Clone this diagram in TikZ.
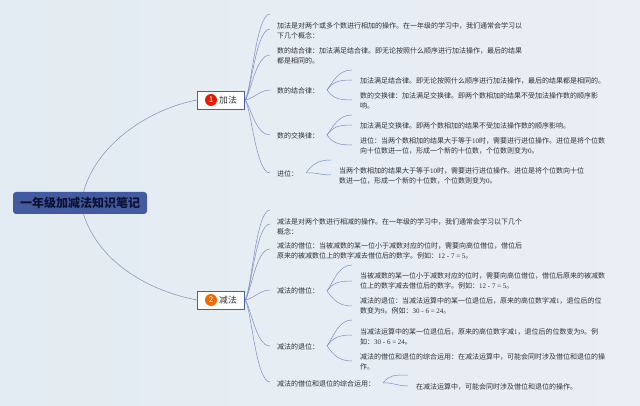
\documentclass[tikz,border=0pt]{standalone}
\usepackage{fontspec}
\setmainfont{Noto Sans CJK SC}
\newfontfamily\lat{Liberation Serif}
\usetikzlibrary{calc}
\definecolor{bgL}{HTML}{E3ECF2}
\definecolor{bgR}{HTML}{EAEEF5}
\definecolor{txtc}{HTML}{2E3135}
\definecolor{linec}{HTML}{7F8DC4}
\definecolor{rootline}{HTML}{8F98B8}
\definecolor{rootfill}{HTML}{4359A0}
\definecolor{boxline}{HTML}{4B5FA8}
\definecolor{rootink}{HTML}{0C1230}
\tikzset{
  txt/.style={anchor=west,align=left,inner sep=0pt,text=txtc,font=\fontsize{7}{10.2}\selectfont},
  rootnode/.style={fill=rootfill,rounded corners=3pt,minimum width=134pt,minimum height=22pt,inner sep=0pt,text=rootink,font=\fontsize{12}{14}\selectfont\bfseries},
  topic/.style={draw=boxline,fill=white,line width=0.8pt,minimum width=47pt,minimum height=18pt,inner sep=0pt},
  topictext/.style={inner sep=0pt,text=black!80,font=\fontsize{8.8}{10}\selectfont},
  badge/.style={circle,minimum size=12pt,inner sep=0pt,text=white,font=\fontsize{8}{9}\selectfont},
  br/.style={draw=linec,line width=0.5pt},
  rl/.style={draw=rootline,line width=0.6pt}
}
\newcommand{\up}[2]{\draw[br] (#1) .. controls +(6,-8) and +(-14,0) .. (#2);}
\newcommand{\dn}[2]{\draw[br] (#1) .. controls +(6,8) and +(-14,0) .. (#2);}
\newcommand{\fl}[2]{\draw[br] (#1) .. controls +(8,-1) and +(-10,0) .. (#2);}
\begin{document}
\begin{tikzpicture}[x=1pt,y=-1pt]
\useasboundingbox (0,0) rectangle (640,406);
\shade[left color=bgL,right color=bgR] (0,0) rectangle (640,406);

\node[rootnode] (root) at (80,203) {一年级加减法知识笔记};
\node[topic] (add) at (221.25,100) {};
\node[badge,fill=red!75!orange!90!black] (addicon) at (211,100) {1};
\node[topictext] (addtxt) at (228,100) {加法};
\node[topic] (sub) at (221.25,300) {};
\node[badge,fill=orange!85!red!95!black] (subicon) at (211,300) {2};
\node[topictext] (subtxt) at (228,300) {减法};

\draw[rl] ($(root.north)+(3.5,0)$) .. controls +(14,-50) and +(-45,8) .. (add.west);
\draw[rl] ($(root.south)+(3.5,0)$) .. controls +(16,50) and +(-45,-8) .. (sub.west);

% addition, level 2
\node[txt] (a1) at (277,31) {加法是对两个或多个数进行相加的操作。在一年级的学习中，我们通常会学习以\\下几个概念：};
\node[txt] (a2) at (277,55.5) {数的结合律：加法满足结合律。即无论按照什么顺序进行加法操作，最后的结果\\都是相同的。};
\node[txt] (a3) at (277,91) {数的结合律：};
\node[txt] (a4) at (277,136) {数的交换律：};
\node[txt] (a5) at (277,174) {进位：};
% addition, level 3
\node[txt] (a31) at (360,81) {加法满足结合律。即无论按照什么顺序进行加法操作，最后的结果都是相同的。};
\node[txt] (a32) at (360,101) {数的交换律：加法满足交换律。即两个数相加的结果不受加法操作数的顺序影\\响。};
\node[txt] (a41) at (360,126) {加法满足交换律。即两个数相加的结果不受加法操作数的顺序影响。};
\node[txt] (a42) at (360,146) {进位：当两个数相加的结果大于等于{\lat 10}时，需要进行进位操作。进位是将个位数\\向十位数进一位，形成一个新的十位数，个位数则变为{\lat 0}。};
\node[txt] (a51) at (339,176) {当两个数相加的结果大于等于{\lat 10}时，需要进行进位操作。进位是将个位数向十位\\数进一位，形成一个新的十位数，个位数则变为{\lat 0}。};

% subtraction, level 2
\node[txt] (s1) at (277,226.5) {减法是对两个数进行相减的操作。在一年级的学习中，我们通常会学习以下几个\\概念：};
\node[txt] (s2) at (277,251) {减法的借位：当被减数的某一位小于减数对应的位时，需要向高位借位，借位后\\原来的被减数位上的数字减去借位后的数字。例如：{\lat 12 - 7 = 5}。};
\node[txt] (s3) at (277,291) {减法的借位：};
\node[txt] (s4) at (277,347) {减法的退位：};
\node[txt] (s5) at (277,384) {减法的借位和退位的综合运用：};
% subtraction, level 3
\node[txt] (s31) at (360,281) {当被减数的某一位小于减数对应的位时，需要向高位借位，借位后原来的被减数\\位上的数字减去借位后的数字。例如：{\lat 12 - 7 = 5}。};
\node[txt] (s32) at (360,306) {减法的退位：当减法运算中的某一位退位后，原来的高位数字减{\lat 1}，退位后的位\\数变为{\lat 9}。例如：{\lat 30 - 6 = 24}。};
\node[txt] (s41) at (360,337) {当减法运算中的某一位退位后，原来的高位数字减{\lat 1}，退位后的位数变为{\lat 9}。例\\如：{\lat 30 - 6 = 24}。};
\node[txt] (s42) at (360,362) {减法的借位和退位的综合运用：在减法运算中，可能会同时涉及借位和退位的操\\作。};
\node[txt] (s51) at (416,387) {在减法运算中，可能会同时涉及借位和退位的操作。};

% free ends
\foreach \n/\x/\y in {ae1/270/14,ae2/270/29,ae3/270/55,ae4/270/90,ae5/270/135,ae6/270/173,
  se1/270/210,se2/270/224,se3/270/249,se4/270/290,se5/270/346,se6/270/382,
  b1s/327/90,b1a/352/70,b1b/352/80,b1c/352/100,
  b2s/327/135,b2a/352/115,b2b/352/125,b2c/352/145,
  b3s/306/173,b3a/331/160,b3b/331/175,
  b4s/327/291,b4a/352/265,b4b/352/281,b4c/352/306,
  b5s/327/346,b5a/352/320,b5b/352/335,b5c/352/361,
  b6s/383/383,b6a/408/375,b6b/408/386}
  {\coordinate (\n) at (\x,\y);}

\up{add.east}{ae1}\up{add.east}{ae2}\up{add.east}{ae3}\fl{add.east}{ae4}\dn{add.east}{ae5}\dn{add.east}{ae6}
\up{sub.east}{se1}\up{sub.east}{se2}\up{sub.east}{se3}\fl{sub.east}{se4}\dn{sub.east}{se5}\dn{sub.east}{se6}
\up{b1s}{b1a}\up{b1s}{b1b}\dn{b1s}{b1c}
\up{b2s}{b2a}\up{b2s}{b2b}\dn{b2s}{b2c}
\up{b3s}{b3a}\fl{b3s}{b3b}
\up{b4s}{b4a}\up{b4s}{b4b}\dn{b4s}{b4c}
\up{b5s}{b5a}\up{b5s}{b5b}\dn{b5s}{b5c}
\up{b6s}{b6a}\fl{b6s}{b6b}
\end{tikzpicture}
\end{document}
